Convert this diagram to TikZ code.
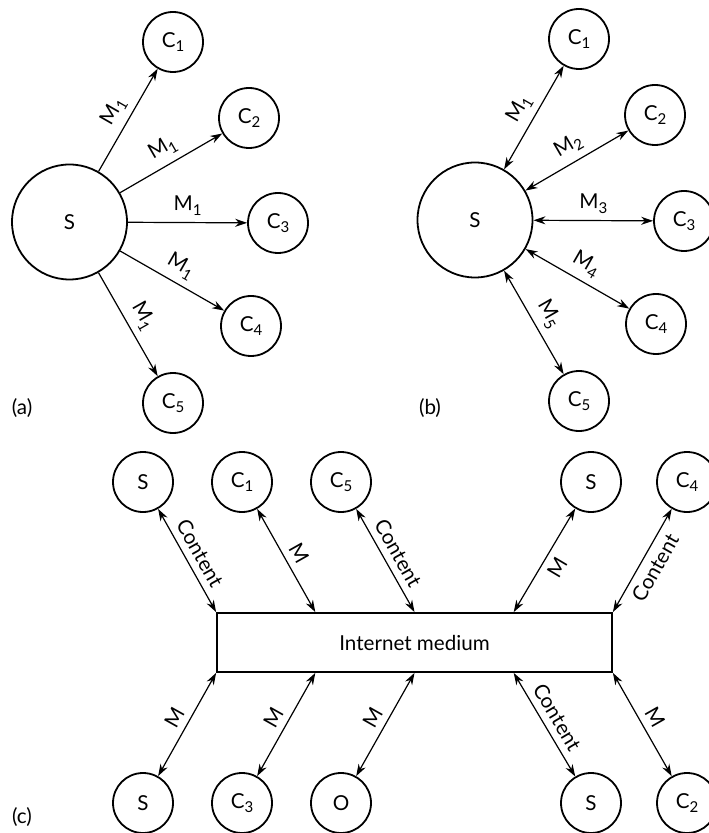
\documentclass[tikz,border=0pt]{standalone}
\usepackage{fontspec}
\setmainfont{Lato}
\usetikzlibrary{arrows.meta,calc}
\tikzstyle{client}=[circle,draw,line width=0.9pt,minimum size=30pt,inner sep=0pt]
\tikzstyle{server}=[circle,draw,line width=0.9pt,minimum size=57.5pt,inner sep=0pt]
\tikzstyle{msg}=[line width=0.6pt,-{Stealth[length=6pt,width=4pt]}]
\tikzstyle{dmsg}=[line width=0.6pt,{Stealth[length=6pt,width=4pt]}-{Stealth[length=6pt,width=4pt]}]
\newcommand{\sub}[2]{#1\raisebox{-0.45ex}{\fontsize{7.5}{8}\selectfont #2}}

\begin{document}
\begin{tikzpicture}[x=0.5pt,y=-0.5pt,font=\fontsize{10.3}{12}\selectfont]
    \useasboundingbox (0,0) rectangle (708,833);
    % (a) one message to all
    \node[server] (as) at (69.5,222) {S};
    \node[client] (a1) at (173,42)  {\sub{C}{1}};
    \node[client] (a2) at (249,118) {\sub{C}{2}};
    \node[client] (a3) at (278,223) {\sub{C}{3}};
    \node[client] (a4) at (251,326) {\sub{C}{4}};
    \node[client] (a5) at (173,403) {\sub{C}{5}};
    \foreach \i in {1,...,5}
    \draw[msg] (as) -- node[sloped,above] {\sub{M}{1}} (a\i);
    \node (alab) at (22,408) {(a)};

    % (b) one message per client
    \node[server] (bs) at (475,220) {S};
    \node[client] (b1) at (579,39)  {\sub{C}{1}};
    \node[client] (b2) at (655,115) {\sub{C}{2}};
    \node[client] (b3) at (684,221) {\sub{C}{3}};
    \node[client] (b4) at (656,324) {\sub{C}{4}};
    \node[client] (b5) at (579,401) {\sub{C}{5}};
    \foreach \i in {1,...,5}
    \draw[dmsg] (bs) -- node[sloped,above] {\sub{M}{\i}} (b\i);
    \node (blab) at (430,408) {(b)};

    % (c) internet medium
    \node[draw,line width=0.9pt,minimum width=197.5pt,minimum height=29.5pt] (net) at (414.5,642.5) {Internet medium};
    \foreach \k in {0,...,4} {
      \coordinate (nt\k) at ($(net.north west)!\k/4!(net.north east)$);
      \coordinate (nb\k) at ($(net.south west)!\k/4!(net.south east)$);
    }
    \node[client] (tS1) at (143,482) {S};
    \node[client] (tC1) at (242,482) {\sub{C}{1}};
    \node[client] (tC5) at (341,482) {\sub{C}{5}};
    \node[client] (tS2) at (591,482) {S};
    \node[client] (tC4) at (687,482) {\sub{C}{4}};
    \node[client] (bS1) at (143,803) {S};
    \node[client] (bC3) at (242,803) {\sub{C}{3}};
    \node[client] (bO)  at (341,803) {O};
    \node[client] (bS2) at (591,803) {S};
    \node[client] (bC2) at (687,803) {\sub{C}{2}};

    \foreach \from/\to/\txt/\side in {tS1/nt0/Content/above,tC1/nt1/M/above,tC5/nt2/Content/above,nt3/tS2/M/below,nt4/tC4/Content/below,bS1/nb0/M/above,bC3/nb1/M/above,bO/nb2/M/above,nb3/bS2/Content/above,nb4/bC2/M/above}
    \draw[dmsg] (\from) -- node[sloped,\side] {\txt} (\to);
    \node (clab) at (22,817) {(c)};
\end{tikzpicture}
\end{document}
